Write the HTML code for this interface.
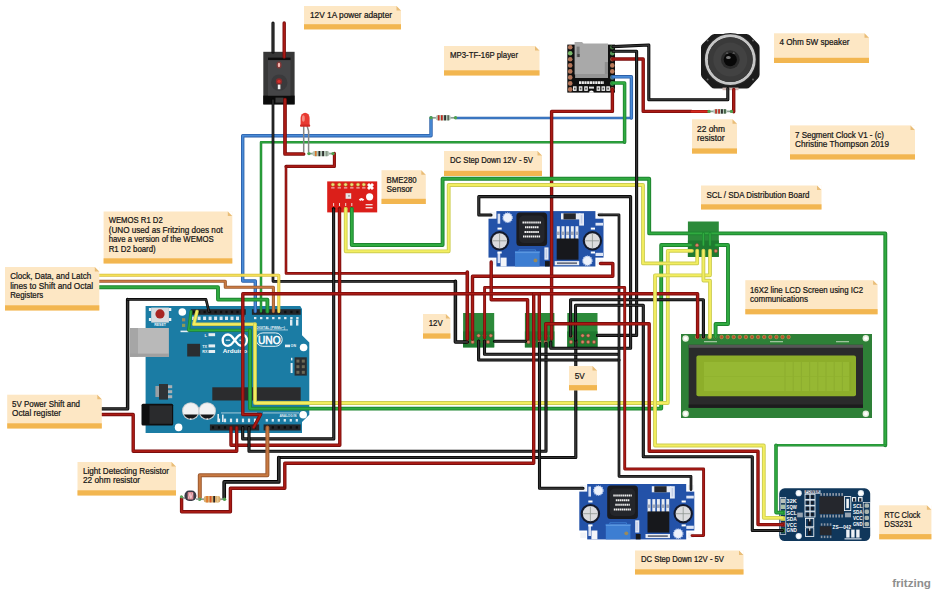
<!DOCTYPE html>
<html><head><meta charset="utf-8"><title>7 Segment Clock V1</title>
<style>html,body{margin:0;padding:0;background:#fff;}svg{display:block}text{font-family:"Liberation Sans",sans-serif;fill:#151515}#notes text{stroke:#151515;stroke-width:0.22px}</style>
</head><body>
<svg width="938" height="594" viewBox="0 0 938 594">
<rect width="938" height="594" fill="#ffffff"/>
<g id="arduino">
<path d="M145.6 306 L300.2 306 L302 309 L302 335.3 L309.3 342.6 L309.3 414.7 L302 422 L302 433 L145.6 433 Z" fill="#1b7ca4"/>
<rect x="148.9" y="308.0" width="2.4" height="3" fill="#eef2f4"/>
<rect x="168.9" y="308.0" width="2.4" height="3" fill="#eef2f4"/>
<rect x="148.9" y="318.0" width="2.4" height="3" fill="#eef2f4"/>
<rect x="168.9" y="318.0" width="2.4" height="3" fill="#eef2f4"/>
<rect x="151.2" y="307.6" width="17.7" height="15" fill="#d8dcdf"/>
<circle cx="160" cy="313.9" r="4.6" fill="#a82622"/>
<text x="154.2" y="325.8" font-size="3.4" font-weight="bold" style="fill:#eef5f8" textLength="11.8" lengthAdjust="spacingAndGlyphs">RESET</text>
<circle cx="182.3" cy="312.0" r="3.8" fill="#ffffff"/>
<circle cx="178.6" cy="427.4" r="3.8" fill="#ffffff"/>
<circle cx="303.6" cy="347.5" r="3.8" fill="#ffffff"/>
<circle cx="303.2" cy="414.7" r="3.8" fill="#ffffff"/>
<rect x="130" y="328" width="38.9" height="28.8" fill="#b9b9b9"/>
<rect x="130" y="328" width="8" height="28.8" fill="#a6a6a6"/>
<rect x="130" y="353.6" width="38.9" height="3.2" fill="#a0a0a0"/>
<rect x="182" y="318.2" width="3.2" height="3.2" fill="#9a8a5a"/><rect x="182" y="323.8" width="3.2" height="3.2" fill="#8a9a5a"/>
<rect x="180.5" y="330.6" width="8" height="1.6" fill="#e6f0f5"/>
<rect x="190.8" y="309.2" width="55" height="5.6" fill="#23262a"/>
<rect x="251.9" y="309.2" width="48.8" height="5.6" fill="#23262a"/>
<rect x="192.5" y="310.8" width="2.2" height="2.4" fill="#0c0d0e"/>
<rect x="192.1" y="316.6" width="3" height="3.4" fill="#dfeaf0"/>
<rect x="198.0" y="310.8" width="2.2" height="2.4" fill="#0c0d0e"/>
<rect x="197.6" y="316.6" width="3" height="3.4" fill="#dfeaf0"/>
<rect x="203.5" y="310.8" width="2.2" height="2.4" fill="#0c0d0e"/>
<rect x="203.1" y="316.6" width="3" height="3.4" fill="#dfeaf0"/>
<rect x="209.0" y="310.8" width="2.2" height="2.4" fill="#0c0d0e"/>
<rect x="208.6" y="316.6" width="3" height="3.4" fill="#dfeaf0"/>
<rect x="214.5" y="310.8" width="2.2" height="2.4" fill="#0c0d0e"/>
<rect x="214.1" y="316.6" width="3" height="3.4" fill="#dfeaf0"/>
<rect x="220.0" y="310.8" width="2.2" height="2.4" fill="#0c0d0e"/>
<rect x="219.6" y="316.6" width="3" height="3.4" fill="#dfeaf0"/>
<rect x="225.4" y="310.8" width="2.2" height="2.4" fill="#0c0d0e"/>
<rect x="225.0" y="316.6" width="3" height="3.4" fill="#dfeaf0"/>
<rect x="230.9" y="310.8" width="2.2" height="2.4" fill="#0c0d0e"/>
<rect x="230.5" y="316.6" width="3" height="3.4" fill="#dfeaf0"/>
<rect x="236.4" y="310.8" width="2.2" height="2.4" fill="#0c0d0e"/>
<rect x="236.0" y="316.6" width="3" height="3.4" fill="#dfeaf0"/>
<rect x="241.9" y="310.8" width="2.2" height="2.4" fill="#0c0d0e"/>
<rect x="241.5" y="316.6" width="3" height="3.4" fill="#dfeaf0"/>
<rect x="254.1" y="310.8" width="2.2" height="2.4" fill="#0c0d0e"/>
<rect x="254.0" y="317" width="2.4" height="2.2" fill="#dfeaf0"/>
<rect x="260.1" y="310.8" width="2.2" height="2.4" fill="#0c0d0e"/>
<rect x="260.0" y="317" width="2.4" height="2.2" fill="#dfeaf0"/>
<rect x="266.2" y="310.8" width="2.2" height="2.4" fill="#0c0d0e"/>
<rect x="266.1" y="317" width="2.4" height="2.2" fill="#dfeaf0"/>
<rect x="272.2" y="310.8" width="2.2" height="2.4" fill="#0c0d0e"/>
<rect x="272.1" y="317" width="2.4" height="2.2" fill="#dfeaf0"/>
<rect x="278.2" y="310.8" width="2.2" height="2.4" fill="#0c0d0e"/>
<rect x="278.1" y="317" width="2.4" height="2.2" fill="#dfeaf0"/>
<rect x="284.2" y="310.8" width="2.2" height="2.4" fill="#0c0d0e"/>
<rect x="284.1" y="317" width="2.4" height="2.2" fill="#dfeaf0"/>
<rect x="290.3" y="310.8" width="2.2" height="2.4" fill="#0c0d0e"/>
<rect x="290.2" y="317" width="2.4" height="2.2" fill="#dfeaf0"/>
<rect x="296.3" y="310.8" width="2.2" height="2.4" fill="#0c0d0e"/>
<rect x="296.2" y="317" width="2.4" height="2.2" fill="#dfeaf0"/>
<rect x="290" y="319.6" width="2.4" height="6" fill="#dfeaf0"/><rect x="296" y="319.6" width="2.4" height="6" fill="#dfeaf0"/>
<rect x="255" y="329.6" width="33" height="0.7" fill="#dfeaf0"/>
<text x="256" y="328.6" font-size="3.6" font-weight="bold" style="fill:#e6f0f5" textLength="29" lengthAdjust="spacingAndGlyphs">DIGITAL (PWM=~)</text>
<text x="204.5" y="336.5" font-size="4" font-weight="bold" style="fill:#eef5f8">L</text><rect x="208.5" y="333.2" width="6.6" height="3" fill="#e6eef2"/>
<text x="202.3" y="347.6" font-size="3.8" font-weight="bold" style="fill:#eef5f8">TX</text><rect x="208.5" y="344.4" width="6.6" height="3" fill="#e6eef2"/>
<text x="202.3" y="353.2" font-size="3.8" font-weight="bold" style="fill:#eef5f8">RX</text><rect x="208.5" y="350" width="6.6" height="3" fill="#e6eef2"/>
<rect x="187.2" y="343.8" width="12.9" height="12.7" fill="#2a2d30"/>
<path d="M234.8 340.2 C232 336 230.5 334.5 228 334.5 C224.6 334.5 222.7 337.2 222.7 340.2 C222.7 343.2 224.6 345.9 228 345.9 C230.5 345.9 232 344.4 234.8 340.2 C237.6 336 239.1 334.5 241.6 334.5 C245 334.5 246.9 337.2 246.9 340.2 C246.9 343.2 245 345.9 241.6 345.9 C239.1 345.9 237.6 344.4 234.8 340.2 Z" fill="none" stroke="#ffffff" stroke-width="2.3"/>
<path d="M225.8 340.2 h4.4 M239.4 340.2 h4.4 M241.6 338 v4.4" stroke="#fff" stroke-width="1"/>
<rect x="256.2" y="332.9" width="26" height="13.4" rx="6.7" fill="none" stroke="#ffffff" stroke-width="0.9"/>
<text x="258" y="343.8" font-size="10.4" style="fill:#ffffff;stroke:#ffffff;stroke-width:0.5px" textLength="22.6" lengthAdjust="spacingAndGlyphs">UNO</text>
<text x="222.8" y="352.8" font-size="5.4" font-weight="bold" style="fill:#ffffff" textLength="24.3" lengthAdjust="spacingAndGlyphs">Arduino</text>
<rect x="285" y="344.6" width="5" height="2.6" fill="#e6eef2"/><text x="290.6" y="347.4" font-size="3.6" font-weight="bold" style="fill:#eef5f8">ON</text>
<rect x="294.6" y="357.3" width="12.2" height="18.3" fill="#2a2d30"/>
<rect x="296.4" y="359.6" width="3" height="3" fill="#6d6a58"/>
<rect x="301.8" y="359.6" width="3" height="3" fill="#6d6a58"/>
<rect x="296.4" y="365.2" width="3" height="3" fill="#6d6a58"/>
<rect x="301.8" y="365.2" width="3" height="3" fill="#6d6a58"/>
<rect x="296.4" y="370.8" width="3" height="3" fill="#6d6a58"/>
<rect x="301.8" y="370.8" width="3" height="3" fill="#6d6a58"/>
<rect x="290.6" y="363" width="2" height="10" fill="#e6f0f5"/><rect x="291" y="357.8" width="1.4" height="2.6" fill="#e6f0f5"/>
<rect x="155.4" y="386" width="4" height="11" fill="#9aa0a4"/>
<rect x="159" y="384" width="9" height="15.6" fill="#2f3336"/>
<rect x="168" y="385.2" width="4.2" height="3" fill="#aab0b4"/>
<rect x="168" y="390.2" width="4.2" height="3" fill="#aab0b4"/>
<rect x="168" y="395.2" width="4.2" height="3" fill="#aab0b4"/>
<rect x="212.3" y="387.3" width="88.4" height="13.2" fill="#2b2c2e"/>
<rect x="141.5" y="403.7" width="31.7" height="21.9" rx="1.5" fill="#0f0f10"/>
<rect x="149.5" y="405.5" width="22.5" height="18.3" fill="#2a2b2d"/>
<circle cx="190.8" cy="411" r="8.8" fill="#c9cdd0"/>
<circle cx="190.8" cy="411" r="7.8" fill="#f1f2f3"/>
<path d="M183.9 414.6 A7.8 7.8 0 0 0 197.7 414.6 Z" fill="#17181a"/>
<rect x="190.3" y="418.2" width="1" height="1.6" fill="#fff"/>
<circle cx="207.2" cy="411" r="8.8" fill="#c9cdd0"/>
<circle cx="207.2" cy="411" r="7.8" fill="#f1f2f3"/>
<path d="M200.3 414.6 A7.8 7.8 0 0 0 214.1 414.6 Z" fill="#17181a"/>
<rect x="206.7" y="418.2" width="1" height="1.6" fill="#fff"/>
<rect x="209.9" y="424.4" width="49.3" height="6.1" fill="#23262a"/>
<rect x="263.6" y="424.4" width="37.1" height="6.1" fill="#23262a"/>
<rect x="211.9" y="426.2" width="2.2" height="2.4" fill="#0c0d0e"/>
<rect x="217.9" y="426.2" width="2.2" height="2.4" fill="#0c0d0e"/>
<rect x="217.9" y="418.6" width="2.2" height="3.6" fill="#dfeaf0"/>
<rect x="223.9" y="426.2" width="2.2" height="2.4" fill="#0c0d0e"/>
<rect x="223.9" y="418.6" width="2.2" height="3.6" fill="#dfeaf0"/>
<rect x="229.9" y="426.2" width="2.2" height="2.4" fill="#0c0d0e"/>
<rect x="229.9" y="418.6" width="2.2" height="3.6" fill="#dfeaf0"/>
<rect x="235.9" y="426.2" width="2.2" height="2.4" fill="#0c0d0e"/>
<rect x="235.9" y="418.6" width="2.2" height="3.6" fill="#dfeaf0"/>
<rect x="241.9" y="426.2" width="2.2" height="2.4" fill="#0c0d0e"/>
<rect x="241.9" y="418.6" width="2.2" height="3.6" fill="#dfeaf0"/>
<rect x="247.9" y="426.2" width="2.2" height="2.4" fill="#0c0d0e"/>
<rect x="247.9" y="418.6" width="2.2" height="3.6" fill="#dfeaf0"/>
<rect x="253.9" y="426.2" width="2.2" height="2.4" fill="#0c0d0e"/>
<rect x="253.9" y="418.6" width="2.2" height="3.6" fill="#dfeaf0"/>
<rect x="265.7" y="426.2" width="2.2" height="2.4" fill="#0c0d0e"/>
<rect x="265.7" y="419" width="2.2" height="2.6" fill="#dfeaf0"/>
<rect x="271.7" y="426.2" width="2.2" height="2.4" fill="#0c0d0e"/>
<rect x="271.7" y="419" width="2.2" height="2.6" fill="#dfeaf0"/>
<rect x="277.7" y="426.2" width="2.2" height="2.4" fill="#0c0d0e"/>
<rect x="277.7" y="419" width="2.2" height="2.6" fill="#dfeaf0"/>
<rect x="283.7" y="426.2" width="2.2" height="2.4" fill="#0c0d0e"/>
<rect x="283.7" y="419" width="2.2" height="2.6" fill="#dfeaf0"/>
<rect x="289.7" y="426.2" width="2.2" height="2.4" fill="#0c0d0e"/>
<rect x="289.7" y="419" width="2.2" height="2.6" fill="#dfeaf0"/>
<rect x="295.7" y="426.2" width="2.2" height="2.4" fill="#0c0d0e"/>
<rect x="295.7" y="419" width="2.2" height="2.6" fill="#dfeaf0"/>
<rect x="263" y="412.6" width="36" height="0.7" fill="#dfeaf0"/>
<rect x="221" y="412.6" width="36" height="0.7" fill="#dfeaf0"/>
<text x="279.4" y="416.6" font-size="3.4" font-weight="bold" style="fill:#e6f0f5" textLength="17" lengthAdjust="spacingAndGlyphs">ANALOG IN</text>
<rect x="217.4" y="414" width="1.6" height="8" fill="#dfeaf0"/><rect x="222" y="414.6" width="1.6" height="7.4" fill="#dfeaf0"/>
</g>
<g id="switch">
<rect x="263.3" y="51.8" width="31.3" height="52.6" fill="#373737"/>
<rect x="263.3" y="95.6" width="31.3" height="8.8" fill="#0b0b0b"/>
<rect x="268" y="57.6" width="22.5" height="2.6" fill="#0d0d0d"/>
<rect x="268" y="60.2" width="22.5" height="35.4" fill="#454547"/>
<circle cx="279.2" cy="82.6" r="8.2" fill="#3a3a3c"/>
<ellipse cx="279" cy="65" rx="2.6" ry="3.6" fill="#b02a28" opacity="0.55"/>
<ellipse cx="279" cy="65" rx="1.2" ry="2.3" fill="#f6b8b0"/>
<circle cx="279" cy="81.4" r="3.2" fill="#a82424" opacity="0.7"/>
<circle cx="279" cy="81.4" r="1.7" fill="#d8302a"/>
<rect x="277.8" y="84.6" width="2.6" height="4.6" fill="#ededed"/>
<rect x="275.5" y="97.6" width="8" height="5" fill="#3c3c3c"/>
</g>
<g id="bme">
<rect x="327.2" y="181.4" width="50" height="31" fill="#db1f1a"/>
<circle cx="332.9" cy="184.6" r="1.7" fill="#e8e27a" stroke="#a88a30" stroke-width="0.5"/>
<rect x="331.2" y="187.4" width="3.4" height="1" fill="#f3d9d6"/>
<circle cx="339.3" cy="184.6" r="1.7" fill="#e8e27a" stroke="#a88a30" stroke-width="0.5"/>
<rect x="337.6" y="187.4" width="3.4" height="1" fill="#f3d9d6"/>
<circle cx="345.6" cy="184.6" r="1.7" fill="#e8e27a" stroke="#a88a30" stroke-width="0.5"/>
<rect x="343.9" y="187.4" width="3.4" height="1" fill="#f3d9d6"/>
<circle cx="351.8" cy="184.6" r="1.7" fill="#e8e27a" stroke="#a88a30" stroke-width="0.5"/>
<rect x="350.1" y="187.4" width="3.4" height="1" fill="#f3d9d6"/>
<circle cx="358.0" cy="184.6" r="1.7" fill="#e8e27a" stroke="#a88a30" stroke-width="0.5"/>
<rect x="356.3" y="187.4" width="3.4" height="1" fill="#f3d9d6"/>
<circle cx="363.8" cy="184.6" r="1.7" fill="#e8e27a" stroke="#a88a30" stroke-width="0.5"/>
<rect x="362.1" y="187.4" width="3.4" height="1" fill="#f3d9d6"/>
<rect x="345.6" y="193.2" width="5.6" height="5.6" fill="#e6e6e6"/><rect x="348.2" y="195.5" width="1.6" height="0.9" fill="#555"/>
<circle cx="369.6" cy="196.8" r="3.6" fill="#ffffff"/>
<path d="M367 185 l2 -2 l1.5 1.5 l1.5 -1.5 l2 2 l-1.5 1.5 l1.5 1.5 l-2 2 l-1.5 -1.5 l-1.5 1.5 l-2 -2 l1.5 -1.5 Z" fill="#ffffff"/>
<path d="M358.8 199.5 q2.5 -3 5.5 0 l-1.5 1.5 q-1.3 -1.3 -2.6 0 Z" fill="#fff"/>
<rect x="365.6" y="204" width="7" height="1.4" fill="#f3d9d6"/><rect x="365.6" y="207" width="7" height="1.4" fill="#f3d9d6"/>
<circle cx="333.6" cy="208.8" r="1.8" fill="#111"/>
<rect x="333.1" y="203" width="1" height="3" fill="#f3d9d6"/>
<circle cx="339.5" cy="208.8" r="1.8" fill="#8a0a0a"/>
<rect x="339.0" y="203" width="1" height="3" fill="#f3d9d6"/>
<circle cx="345.7" cy="208.8" r="1.8" fill="#d8d040"/>
<rect x="345.2" y="203" width="1" height="3" fill="#f3d9d6"/>
<circle cx="351.8" cy="208.8" r="1.8" fill="#2a9a35"/>
<rect x="351.3" y="203" width="1" height="3" fill="#f3d9d6"/>
</g>
<g id="sd1">
<g transform="translate(489.0 211.1)">
<rect x="7.4" y="0" width="99" height="55.4" fill="#2352a8"/>
<rect x="-0.5" y="7.6" width="115" height="38.9" fill="#2352a8"/>
<rect x="0.5" y="1.0" width="6" height="5.5" fill="#f1f3f7"/>
<rect x="0.5" y="48.5" width="6" height="5.5" fill="#f1f3f7"/>
<rect x="108.0" y="1.0" width="6" height="5.5" fill="#f1f3f7"/>
<rect x="108.0" y="48.5" width="6" height="5.5" fill="#f1f3f7"/>
<rect x="11.6" y="46.5" width="6" height="8.9" fill="#f4f6fa"/>
<rect x="8.6" y="2.6" width="2.6" height="10" fill="#d5def2"/><rect x="8.6" y="41" width="2.6" height="11" fill="#d5def2"/>
<rect x="8.5" y="16.5" width="4.2" height="2" fill="#fff"/><rect x="8.5" y="40.4" width="4.2" height="2" fill="#fff"/>
<rect x="101.8" y="16.5" width="4.2" height="2" fill="#fff"/><rect x="101.8" y="40.4" width="4.2" height="2" fill="#fff"/>
<rect x="106.5" y="11.7" width="7.5" height="2.8" fill="#dfe6f5"/><rect x="106.5" y="41.7" width="7.5" height="3.2" fill="#dfe6f5"/>
<circle cx="18.6" cy="6.6" r="4.7" fill="#eef2fb" stroke="#a9bfe8" stroke-width="1.3" stroke-dasharray="1.2 0.9"/>
<circle cx="98.4" cy="49.7" r="4.7" fill="#eef2fb" stroke="#a9bfe8" stroke-width="1.3" stroke-dasharray="1.2 0.9"/>
<circle cx="10.6" cy="29.7" r="9.7" fill="#141a2c"/>
<circle cx="10.6" cy="29.7" r="7.6" fill="#dcdcde"/>
<path d="M10.6 22.5 L10.6 37 M3.4 29.7 L17.8 29.7" stroke="#8f9590" stroke-width="0.8"/>
<circle cx="103.4" cy="29.7" r="9.7" fill="#141a2c"/>
<circle cx="103.4" cy="29.7" r="7.6" fill="#dcdcde"/>
<path d="M103.4 22.5 L103.4 37 M96.2 29.7 L110.6 29.7" stroke="#8f9590" stroke-width="0.8"/>
<rect x="27.4" y="1.5" width="30.7" height="33.5" rx="3.5" fill="#1a1b1f"/>
<rect x="30" y="4.5" width="25.5" height="27.5" rx="5" fill="#24262b"/>
<path d="M33.5 11.5 h18.5" stroke="#f0f0f0" stroke-width="2" stroke-dasharray="1.5 0.45"/>
<path d="M36.0 16.2 h14.0" stroke="#f0f0f0" stroke-width="2" stroke-dasharray="1.5 0.45"/>
<path d="M35.5 20.8 h14.5" stroke="#f0f0f0" stroke-width="2" stroke-dasharray="1.5 0.45"/>
<path d="M34.0 25.4 h17.5" stroke="#f0f0f0" stroke-width="2" stroke-dasharray="1.5 0.45"/>
<rect x="26" y="40.4" width="24.6" height="15" fill="#3d7ed2"/>
<rect x="26" y="40.4" width="24.6" height="1.6" fill="#5a96e0"/>
<path d="M26 40.4 h4 v-1.6 h16.6 v1.6 h4" fill="none" stroke="#3d7ed2" stroke-width="1"/>
<circle cx="46.5" cy="49.3" r="1.9" fill="#9a8a5a"/>
<rect x="55.4" y="36.3" width="4.1" height="12.3" fill="#e3e9f6"/><rect x="56.6" y="38" width="1.4" height="9" fill="#c3cde6"/>
<rect x="56" y="50" width="4.8" height="5.4" fill="#17181b"/>
<rect x="72" y="2.2" width="19.5" height="6.1" fill="#e9edf5"/><rect x="74.5" y="2.2" width="12.3" height="6.1" fill="#25272c"/>
<rect x="90.2" y="2.2" width="4.8" height="12.3" fill="#e3e9f6"/><rect x="91.8" y="4" width="1.5" height="8.5" fill="#c3cde6"/>
<rect x="67.8" y="15.1" width="3" height="13" fill="#e8ecf3"/>
<rect x="67.8" y="20.5" width="3" height="3.4" fill="#9ea6b6"/>
<rect x="72.5" y="15.1" width="3" height="13" fill="#e8ecf3"/>
<rect x="72.5" y="20.5" width="3" height="3.4" fill="#9ea6b6"/>
<rect x="77.1" y="15.1" width="3" height="13" fill="#e8ecf3"/>
<rect x="77.1" y="20.5" width="3" height="3.4" fill="#9ea6b6"/>
<rect x="81.8" y="15.1" width="3" height="13" fill="#e8ecf3"/>
<rect x="81.8" y="20.5" width="3" height="3.4" fill="#9ea6b6"/>
<rect x="86.4" y="15.1" width="3" height="13" fill="#e8ecf3"/>
<rect x="86.4" y="20.5" width="3" height="3.4" fill="#9ea6b6"/>
<rect x="67.7" y="27.4" width="21.8" height="21.2" fill="#17181c"/>
<rect x="65.7" y="50" width="24.5" height="4.1" fill="#e9edf5"/><rect x="68" y="51.2" width="20" height="1.8" fill="#6a7080"/>
</g>
</g>
<g id="sd2">
<g transform="translate(579.8 484.0)">
<rect x="7.4" y="0" width="99" height="55.4" fill="#2352a8"/>
<rect x="-0.5" y="7.6" width="115" height="38.9" fill="#2352a8"/>
<rect x="0.5" y="1.0" width="6" height="5.5" fill="#f1f3f7"/>
<rect x="0.5" y="48.5" width="6" height="5.5" fill="#f1f3f7"/>
<rect x="108.0" y="1.0" width="6" height="5.5" fill="#f1f3f7"/>
<rect x="108.0" y="48.5" width="6" height="5.5" fill="#f1f3f7"/>
<rect x="11.6" y="46.5" width="6" height="8.9" fill="#f4f6fa"/>
<rect x="8.6" y="2.6" width="2.6" height="10" fill="#d5def2"/><rect x="8.6" y="41" width="2.6" height="11" fill="#d5def2"/>
<rect x="8.5" y="16.5" width="4.2" height="2" fill="#fff"/><rect x="8.5" y="40.4" width="4.2" height="2" fill="#fff"/>
<rect x="101.8" y="16.5" width="4.2" height="2" fill="#fff"/><rect x="101.8" y="40.4" width="4.2" height="2" fill="#fff"/>
<rect x="106.5" y="11.7" width="7.5" height="2.8" fill="#dfe6f5"/><rect x="106.5" y="41.7" width="7.5" height="3.2" fill="#dfe6f5"/>
<circle cx="18.6" cy="6.6" r="4.7" fill="#eef2fb" stroke="#a9bfe8" stroke-width="1.3" stroke-dasharray="1.2 0.9"/>
<circle cx="98.4" cy="49.7" r="4.7" fill="#eef2fb" stroke="#a9bfe8" stroke-width="1.3" stroke-dasharray="1.2 0.9"/>
<circle cx="10.6" cy="29.7" r="9.7" fill="#141a2c"/>
<circle cx="10.6" cy="29.7" r="7.6" fill="#dcdcde"/>
<path d="M10.6 22.5 L10.6 37 M3.4 29.7 L17.8 29.7" stroke="#8f9590" stroke-width="0.8"/>
<circle cx="103.4" cy="29.7" r="9.7" fill="#141a2c"/>
<circle cx="103.4" cy="29.7" r="7.6" fill="#dcdcde"/>
<path d="M103.4 22.5 L103.4 37 M96.2 29.7 L110.6 29.7" stroke="#8f9590" stroke-width="0.8"/>
<rect x="27.4" y="1.5" width="30.7" height="33.5" rx="3.5" fill="#1a1b1f"/>
<rect x="30" y="4.5" width="25.5" height="27.5" rx="5" fill="#24262b"/>
<path d="M33.5 11.5 h18.5" stroke="#f0f0f0" stroke-width="2" stroke-dasharray="1.5 0.45"/>
<path d="M36.0 16.2 h14.0" stroke="#f0f0f0" stroke-width="2" stroke-dasharray="1.5 0.45"/>
<path d="M35.5 20.8 h14.5" stroke="#f0f0f0" stroke-width="2" stroke-dasharray="1.5 0.45"/>
<path d="M34.0 25.4 h17.5" stroke="#f0f0f0" stroke-width="2" stroke-dasharray="1.5 0.45"/>
<rect x="26" y="40.4" width="24.6" height="15" fill="#3d7ed2"/>
<rect x="26" y="40.4" width="24.6" height="1.6" fill="#5a96e0"/>
<path d="M26 40.4 h4 v-1.6 h16.6 v1.6 h4" fill="none" stroke="#3d7ed2" stroke-width="1"/>
<circle cx="46.5" cy="49.3" r="1.9" fill="#9a8a5a"/>
<rect x="55.4" y="36.3" width="4.1" height="12.3" fill="#e3e9f6"/><rect x="56.6" y="38" width="1.4" height="9" fill="#c3cde6"/>
<rect x="56" y="50" width="4.8" height="5.4" fill="#17181b"/>
<rect x="72" y="2.2" width="19.5" height="6.1" fill="#e9edf5"/><rect x="74.5" y="2.2" width="12.3" height="6.1" fill="#25272c"/>
<rect x="90.2" y="2.2" width="4.8" height="12.3" fill="#e3e9f6"/><rect x="91.8" y="4" width="1.5" height="8.5" fill="#c3cde6"/>
<rect x="67.8" y="15.1" width="3" height="13" fill="#e8ecf3"/>
<rect x="67.8" y="20.5" width="3" height="3.4" fill="#9ea6b6"/>
<rect x="72.5" y="15.1" width="3" height="13" fill="#e8ecf3"/>
<rect x="72.5" y="20.5" width="3" height="3.4" fill="#9ea6b6"/>
<rect x="77.1" y="15.1" width="3" height="13" fill="#e8ecf3"/>
<rect x="77.1" y="20.5" width="3" height="3.4" fill="#9ea6b6"/>
<rect x="81.8" y="15.1" width="3" height="13" fill="#e8ecf3"/>
<rect x="81.8" y="20.5" width="3" height="3.4" fill="#9ea6b6"/>
<rect x="86.4" y="15.1" width="3" height="13" fill="#e8ecf3"/>
<rect x="86.4" y="20.5" width="3" height="3.4" fill="#9ea6b6"/>
<rect x="67.7" y="27.4" width="21.8" height="21.2" fill="#17181c"/>
<rect x="65.7" y="50" width="24.5" height="4.1" fill="#e9edf5"/><rect x="68" y="51.2" width="20" height="1.8" fill="#6a7080"/>
</g>
</g>
<g id="boards">
<rect x="463.1" y="313.0" width="31.1" height="34.4" fill="#2c8a3a"/>
<rect x="463.1" y="331.4" width="31.1" height="16.0" fill="#1f7a30"/>
<circle cx="467.3" cy="342.0" r="1.7" fill="#d9866a" stroke="#8a3a2a" stroke-width="0.5"/>
<circle cx="472.6" cy="342.0" r="1.7" fill="#d9866a" stroke="#8a3a2a" stroke-width="0.5"/>
<circle cx="478.6" cy="335.6" r="1.7" fill="#d9866a" stroke="#8a3a2a" stroke-width="0.5"/>
<circle cx="484.5" cy="335.6" r="1.7" fill="#d9866a" stroke="#8a3a2a" stroke-width="0.5"/>
<circle cx="490.8" cy="335.6" r="1.7" fill="#d9866a" stroke="#8a3a2a" stroke-width="0.5"/>
<circle cx="478.6" cy="342.0" r="1.7" fill="#d9866a" stroke="#8a3a2a" stroke-width="0.5"/>
<circle cx="484.5" cy="342.0" r="1.7" fill="#d9866a" stroke="#8a3a2a" stroke-width="0.5"/>
<circle cx="488.0" cy="342.0" r="1.7" fill="#d9866a" stroke="#8a3a2a" stroke-width="0.5"/>
<rect x="524.9" y="313.0" width="29.5" height="34.4" fill="#2c8a3a"/>
<rect x="524.9" y="331.4" width="29.5" height="16.0" fill="#1f7a30"/>
<circle cx="528.4" cy="342.0" r="1.7" fill="#d9866a" stroke="#8a3a2a" stroke-width="0.5"/>
<circle cx="533.8" cy="342.0" r="1.7" fill="#d9866a" stroke="#8a3a2a" stroke-width="0.5"/>
<circle cx="539.5" cy="336.0" r="1.7" fill="#d9866a" stroke="#8a3a2a" stroke-width="0.5"/>
<circle cx="545.7" cy="336.0" r="1.7" fill="#d9866a" stroke="#8a3a2a" stroke-width="0.5"/>
<circle cx="551.3" cy="336.0" r="1.7" fill="#d9866a" stroke="#8a3a2a" stroke-width="0.5"/>
<circle cx="539.5" cy="342.0" r="1.7" fill="#d9866a" stroke="#8a3a2a" stroke-width="0.5"/>
<circle cx="545.7" cy="342.0" r="1.7" fill="#d9866a" stroke="#8a3a2a" stroke-width="0.5"/>
<rect x="567.3" y="313.0" width="30.2" height="34.4" fill="#2c8a3a"/>
<rect x="567.3" y="331.4" width="30.2" height="16.0" fill="#1f7a30"/>
<circle cx="570.9" cy="342.0" r="1.7" fill="#d9866a" stroke="#8a3a2a" stroke-width="0.5"/>
<circle cx="576.0" cy="342.0" r="1.7" fill="#d9866a" stroke="#8a3a2a" stroke-width="0.5"/>
<circle cx="582.6" cy="335.6" r="1.7" fill="#d9866a" stroke="#8a3a2a" stroke-width="0.5"/>
<circle cx="588.2" cy="335.6" r="1.7" fill="#d9866a" stroke="#8a3a2a" stroke-width="0.5"/>
<circle cx="582.6" cy="342.0" r="1.7" fill="#d9866a" stroke="#8a3a2a" stroke-width="0.5"/>
<circle cx="588.2" cy="342.0" r="1.7" fill="#d9866a" stroke="#8a3a2a" stroke-width="0.5"/>
<circle cx="594.0" cy="342.0" r="1.7" fill="#d9866a" stroke="#8a3a2a" stroke-width="0.5"/>
<circle cx="570.9" cy="336.0" r="1.7" fill="#d9866a" stroke="#8a3a2a" stroke-width="0.5"/>
<rect x="687.9" y="221.5" width="30.9" height="35.4" fill="#2c8a3a"/>
<rect x="687.9" y="240.5" width="30.9" height="16.4" fill="#1f7a30"/>
<circle cx="697.0" cy="245.2" r="1.7" fill="#d9866a" stroke="#8a3a2a" stroke-width="0.5"/>
<circle cx="715.8" cy="251.0" r="1.7" fill="#d9866a" stroke="#8a3a2a" stroke-width="0.5"/>
</g>
<g id="mp3">
<rect x="567.3" y="44.6" width="47.7" height="48" fill="#101010"/>
<path d="M574.6 41.9 L582 41.9 L583.5 43.4 L608 43.4 L608 78 L575.4 78 L575.4 74.5 L574.6 74.5 Z" fill="#a9a9a9"/>
<rect x="604.8" y="62" width="3.2" height="14" fill="#8e8e8e"/>
<rect x="575.4" y="74" width="32.6" height="4" fill="#959595"/>
<rect x="576.6" y="46.6" width="3" height="10.5" fill="#7a7a7a"/><rect x="577.4" y="54" width="2.2" height="3" fill="#4a4a4a"/>
<circle cx="570.2" cy="47.3" r="2.3" fill="#b4765a"/>
<circle cx="612.3" cy="47.3" r="2.3" fill="#3f6a3a"/>
<circle cx="570.2" cy="53.3" r="2.3" fill="#7ab86a"/>
<circle cx="612.3" cy="53.3" r="2.3" fill="#5a9a5a"/>
<circle cx="570.2" cy="59.3" r="2.3" fill="#b4765a"/>
<circle cx="612.3" cy="59.3" r="2.3" fill="#9a4a3a"/>
<circle cx="570.2" cy="65.4" r="2.3" fill="#b4765a"/>
<circle cx="612.3" cy="65.4" r="2.3" fill="#b87a5a"/>
<circle cx="570.2" cy="71.4" r="2.3" fill="#b4765a"/>
<circle cx="612.3" cy="71.4" r="2.3" fill="#b87a5a"/>
<circle cx="570.2" cy="77.4" r="2.3" fill="#b4765a"/>
<circle cx="612.3" cy="77.4" r="2.3" fill="#4a7a8a"/>
<circle cx="570.2" cy="83.4" r="2.3" fill="#b4765a"/>
<circle cx="612.3" cy="83.4" r="2.3" fill="#3f9a4a"/>
<circle cx="570.2" cy="89.4" r="2.3" fill="#b4765a"/>
<circle cx="612.3" cy="89.4" r="2.3" fill="#9a4a3a"/>
<path d="M579 82.6 h25" stroke="#ececec" stroke-width="2.6" stroke-dasharray="2.2 0.5"/>
<rect x="573.0" y="86.3" width="3.6" height="4.6" fill="#f0f0f0"/><rect x="574.0" y="87.6" width="1.6" height="2" fill="#555"/>
<rect x="578.8" y="86.3" width="3.6" height="4.6" fill="#f0f0f0"/><rect x="579.8" y="87.6" width="1.6" height="2" fill="#555"/>
<rect x="584.2" y="86.3" width="3.6" height="4.6" fill="#f0f0f0"/><rect x="585.2" y="87.6" width="1.6" height="2" fill="#555"/>
<rect x="596.6" y="86.3" width="3.6" height="4.6" fill="#f0f0f0"/><rect x="597.6" y="87.6" width="1.6" height="2" fill="#555"/>
<rect x="601.5" y="86.3" width="3.6" height="4.6" fill="#f0f0f0"/><rect x="602.5" y="87.6" width="1.6" height="2" fill="#555"/>
<rect x="606.3" y="86.3" width="3.6" height="4.6" fill="#f0f0f0"/><rect x="607.3" y="87.6" width="1.6" height="2" fill="#555"/>
<rect x="589" y="86.6" width="5" height="2" fill="#e0e0e0"/>
<path d="M589 92.8 a2.4 2.4 0 0 1 4.8 0 Z" fill="#fff"/>
</g>
<g id="speaker">
<path d="M714.5 34 L746.5 34 Q748.5 34 750 35.5 L758.3 44 Q759.6 45.4 759.6 47.4 L759.6 74.6 Q759.6 76.6 758.3 78 L750 87 Q748.5 88.6 746.5 88.6 L714.5 88.6 Q712.5 88.6 711 87 L702.4 78 Q701 76.6 701 74.6 L701 47.4 Q701 45.4 702.4 44 L711 35.5 Q712.5 34 714.5 34 Z" fill="#1c1c1c"/>
<circle cx="707.6" cy="40.4" r="1" fill="#6a6a6a"/>
<circle cx="753.0" cy="40.4" r="1" fill="#6a6a6a"/>
<circle cx="707.6" cy="79.6" r="1" fill="#6a6a6a"/>
<circle cx="753.0" cy="79.6" r="1" fill="#6a6a6a"/>
<circle cx="730.3" cy="59.6" r="26.6" fill="#262626"/>
<circle cx="730.3" cy="59.6" r="23.9" fill="none" stroke="#c6c6c6" stroke-width="3"/>
<circle cx="730.3" cy="59.6" r="22.4" fill="#3a3a3a"/>
<circle cx="730.3" cy="59.6" r="17" fill="#424242"/>
<circle cx="730.3" cy="59.6" r="9.4" fill="#2a2a2a"/>
<circle cx="730.3" cy="59.6" r="6.6" fill="#080808"/>
<ellipse cx="728.4" cy="57.6" rx="2.4" ry="1.5" fill="#7a7a7a"/>
<path d="M727 51.5 l1.6 2.6 h-3 Z M733.8 51.5 l1.4 2.6 h-3 Z" fill="#555"/>
<rect x="722.5" y="87.6" width="16" height="2.6" fill="#cfb8b4"/>
</g>
<g id="lcd">
<rect x="681" y="334" width="191" height="84" fill="#2e8037"/>
<rect x="688.7" y="344.8" width="174.3" height="63" fill="#2a2b2b"/>
<rect x="688.7" y="344.8" width="174.3" height="3" fill="#555755"/>
<rect x="688.7" y="404.5" width="174.3" height="3.3" fill="#1c1d1d"/>
<rect x="696.4" y="355.5" width="159.6" height="40.7" rx="2" fill="#8dae2a"/>
<rect x="704" y="362" width="145" height="29" fill="#96b833"/>
<path d="M785.0 362 L785.0 391" stroke="#86a62c" stroke-width="0.6"/>
<path d="M793.2 362 L793.2 391" stroke="#86a62c" stroke-width="0.6"/>
<path d="M801.4 362 L801.4 391" stroke="#86a62c" stroke-width="0.6"/>
<path d="M809.6 362 L809.6 391" stroke="#86a62c" stroke-width="0.6"/>
<path d="M817.8 362 L817.8 391" stroke="#86a62c" stroke-width="0.6"/>
<path d="M826.0 362 L826.0 391" stroke="#86a62c" stroke-width="0.6"/>
<path d="M834.2 362 L834.2 391" stroke="#86a62c" stroke-width="0.6"/>
<path d="M842.4 362 L842.4 391" stroke="#86a62c" stroke-width="0.6"/>
<path d="M850.6 362 L850.6 391" stroke="#86a62c" stroke-width="0.6"/>
<path d="M704 376.5 L849 376.5" stroke="#8fb02e" stroke-width="0.6"/>
<circle cx="685.6" cy="338.5" r="3.2" fill="#e6eedd"/><circle cx="685.6" cy="338.5" r="1.7" fill="#ffffff"/>
<circle cx="865.8" cy="338.3" r="3.2" fill="#e6eedd"/><circle cx="865.8" cy="338.3" r="1.7" fill="#ffffff"/>
<circle cx="685.6" cy="413.8" r="3.2" fill="#e6eedd"/><circle cx="685.6" cy="413.8" r="1.7" fill="#ffffff"/>
<circle cx="865.8" cy="413.7" r="3.2" fill="#e6eedd"/><circle cx="865.8" cy="413.7" r="1.7" fill="#ffffff"/>
<circle cx="697.2" cy="337" r="1.8" fill="#b8502a" stroke="#d8a060" stroke-width="0.5"/>
<circle cx="703.3" cy="337" r="1.8" fill="#b8502a" stroke="#d8a060" stroke-width="0.5"/>
<circle cx="709.4" cy="337" r="1.8" fill="#b8502a" stroke="#d8a060" stroke-width="0.5"/>
<circle cx="715.5" cy="337" r="1.8" fill="#b8502a" stroke="#d8a060" stroke-width="0.5"/>
<circle cx="721.6" cy="337" r="1.8" fill="#b8502a" stroke="#d8a060" stroke-width="0.5"/>
<circle cx="727.7" cy="337" r="1.8" fill="#b8502a" stroke="#d8a060" stroke-width="0.5"/>
<circle cx="733.7" cy="337" r="1.8" fill="#b8502a" stroke="#d8a060" stroke-width="0.5"/>
<circle cx="739.8" cy="337" r="1.8" fill="#b8502a" stroke="#d8a060" stroke-width="0.5"/>
<circle cx="745.9" cy="337" r="1.8" fill="#b8502a" stroke="#d8a060" stroke-width="0.5"/>
<circle cx="752.0" cy="337" r="1.8" fill="#b8502a" stroke="#d8a060" stroke-width="0.5"/>
<circle cx="758.1" cy="337" r="1.8" fill="#b8502a" stroke="#d8a060" stroke-width="0.5"/>
<circle cx="764.2" cy="337" r="1.8" fill="#b8502a" stroke="#d8a060" stroke-width="0.5"/>
<circle cx="770.3" cy="337" r="1.8" fill="#b8502a" stroke="#d8a060" stroke-width="0.5"/>
<circle cx="776.4" cy="337" r="1.8" fill="#b8502a" stroke="#d8a060" stroke-width="0.5"/>
<circle cx="782.5" cy="337" r="1.8" fill="#b8502a" stroke="#d8a060" stroke-width="0.5"/>
<circle cx="788.6" cy="337" r="1.8" fill="#b8502a" stroke="#d8a060" stroke-width="0.5"/>
<rect x="704" y="341.3" width="13" height="0.9" fill="#cfe0c8"/><rect x="770" y="341.3" width="13" height="0.9" fill="#cfe0c8"/><rect x="836" y="341.3" width="13" height="0.9" fill="#cfe0c8"/>
</g>
<g id="rtc">
<rect x="779.2" y="488.3" width="91" height="52.7" rx="5.5" fill="#10375b"/>
<circle cx="798.7" cy="493.2" r="3.1" fill="#dfe8f2"/><circle cx="798.7" cy="493.2" r="2.1" fill="#ffffff"/>
<circle cx="860.9" cy="493.2" r="3.1" fill="#dfe8f2"/><circle cx="860.9" cy="493.2" r="2.1" fill="#ffffff"/>
<circle cx="798.7" cy="536.1" r="3.1" fill="#dfe8f2"/><circle cx="798.7" cy="536.1" r="2.1" fill="#ffffff"/>
<rect x="780.2" y="497.6" width="5.6" height="36.9" fill="none" stroke="#ffffff" stroke-width="0.6"/>
<rect x="781" y="498.7" width="4" height="4.4" fill="#b9c2bc"/>
<text x="786.6" y="502.9" font-size="5.4" font-weight="bold" style="fill:#fff" textLength="10.2" lengthAdjust="spacingAndGlyphs">32K</text>
<rect x="781" y="504.6" width="4" height="4.4" fill="#a9c0a8"/>
<text x="786.6" y="508.8" font-size="5.4" font-weight="bold" style="fill:#fff" textLength="10.2" lengthAdjust="spacingAndGlyphs">SQW</text>
<rect x="781" y="510.5" width="4" height="4.4" fill="#35a845"/>
<text x="786.6" y="514.7" font-size="5.4" font-weight="bold" style="fill:#fff" textLength="10.2" lengthAdjust="spacingAndGlyphs">SCL</text>
<rect x="781" y="516.4" width="4" height="4.4" fill="#d8d84a"/>
<text x="786.6" y="520.6" font-size="5.4" font-weight="bold" style="fill:#fff" textLength="10.2" lengthAdjust="spacingAndGlyphs">SDA</text>
<rect x="781" y="522.3" width="4" height="4.4" fill="#9a2a20"/>
<text x="786.6" y="526.5" font-size="5.4" font-weight="bold" style="fill:#fff" textLength="10.2" lengthAdjust="spacingAndGlyphs">VCC</text>
<rect x="781" y="528.2" width="4" height="4.4" fill="#2d6a35"/>
<text x="786.6" y="532.4" font-size="5.4" font-weight="bold" style="fill:#fff" textLength="10.2" lengthAdjust="spacingAndGlyphs">GND</text>
<rect x="863.2" y="502.3" width="7" height="25.2" fill="none" stroke="#ffffff" stroke-width="0.6"/>
<text x="853" y="507.8" font-size="5.4" font-weight="bold" style="fill:#fff" textLength="9.6" lengthAdjust="spacingAndGlyphs">SCL</text>
<rect x="864.6" y="503.4" width="4.4" height="4.4" rx="1.4" fill="#a9b4ae"/>
<text x="853" y="514.0" font-size="5.4" font-weight="bold" style="fill:#fff" textLength="9.6" lengthAdjust="spacingAndGlyphs">SDA</text>
<rect x="864.6" y="509.6" width="4.4" height="4.4" rx="1.4" fill="#a9b4ae"/>
<text x="853" y="520.1" font-size="5.4" font-weight="bold" style="fill:#fff" textLength="9.6" lengthAdjust="spacingAndGlyphs">VCC</text>
<rect x="864.6" y="515.7" width="4.4" height="4.4" rx="1.4" fill="#a9b4ae"/>
<text x="853" y="526.3" font-size="5.4" font-weight="bold" style="fill:#fff" textLength="9.6" lengthAdjust="spacingAndGlyphs">GND</text>
<rect x="864.6" y="521.9" width="4.4" height="4.4" rx="1.4" fill="#a9b4ae"/>
<rect x="819.3" y="496.4" width="24.6" height="17.6" fill="#25272d"/>
<rect x="820.3" y="493.1" width="1.7" height="2.7" fill="#8c95a2"/><rect x="820.3" y="514.6" width="1.7" height="2.9" fill="#8c95a2"/>
<rect x="823.3" y="493.1" width="1.7" height="2.7" fill="#8c95a2"/><rect x="823.3" y="514.6" width="1.7" height="2.9" fill="#8c95a2"/>
<rect x="826.3" y="493.1" width="1.7" height="2.7" fill="#8c95a2"/><rect x="826.3" y="514.6" width="1.7" height="2.9" fill="#8c95a2"/>
<rect x="829.3" y="493.1" width="1.7" height="2.7" fill="#8c95a2"/><rect x="829.3" y="514.6" width="1.7" height="2.9" fill="#8c95a2"/>
<rect x="832.3" y="493.1" width="1.7" height="2.7" fill="#8c95a2"/><rect x="832.3" y="514.6" width="1.7" height="2.9" fill="#8c95a2"/>
<rect x="835.3" y="493.1" width="1.7" height="2.7" fill="#8c95a2"/><rect x="835.3" y="514.6" width="1.7" height="2.9" fill="#8c95a2"/>
<rect x="838.3" y="493.1" width="1.7" height="2.7" fill="#8c95a2"/><rect x="838.3" y="514.6" width="1.7" height="2.9" fill="#8c95a2"/>
<rect x="841.3" y="493.1" width="1.7" height="2.7" fill="#8c95a2"/><rect x="841.3" y="514.6" width="1.7" height="2.9" fill="#8c95a2"/>
<rect x="819.8" y="526.3" width="11.8" height="8.8" fill="#25272d"/>
<rect x="820.8" y="523.3" width="1.6" height="2.4" fill="#8c95a2"/><rect x="820.8" y="535.7" width="1.6" height="2.4" fill="#8c95a2"/>
<rect x="823.8" y="523.3" width="1.6" height="2.4" fill="#8c95a2"/><rect x="823.8" y="535.7" width="1.6" height="2.4" fill="#8c95a2"/>
<rect x="826.8" y="523.3" width="1.6" height="2.4" fill="#8c95a2"/><rect x="826.8" y="535.7" width="1.6" height="2.4" fill="#8c95a2"/>
<rect x="829.8" y="523.3" width="1.6" height="2.4" fill="#8c95a2"/><rect x="829.8" y="535.7" width="1.6" height="2.4" fill="#8c95a2"/>
<rect x="844.4" y="496.6" width="6.4" height="14" fill="none" stroke="#ffffff" stroke-width="0.8"/><rect x="846.3" y="498.8" width="2.6" height="9.4" fill="#f2f4f6"/>
<rect x="852" y="497" width="4.2" height="4.6" fill="#e8edf2"/><rect x="853" y="498.2" width="2.2" height="3.4" fill="#1a2230"/>
<rect x="858" y="497" width="4.6" height="4.6" fill="#e8edf2"/><rect x="859.2" y="498.2" width="2.2" height="3.4" fill="#1a2230"/>
<rect x="845" y="512.6" width="6" height="4.7" fill="#97a3b0"/><rect x="797.2" y="512.6" width="5.6" height="4.7" fill="#97a3b0"/>
<rect x="804.6" y="490.2" width="15.8" height="3.4" fill="#f1f4f7"/>
<text x="805.2" y="493.2" font-size="3.8" font-weight="bold" style="fill:#1a3050" textLength="14.6" lengthAdjust="spacingAndGlyphs">POWER</text>
<rect x="805" y="494.2" width="10" height="5.2" fill="none" stroke="#fff" stroke-width="0.8"/>
<rect x="806.4" y="495.3" width="2.8" height="3" fill="#131a26"/><rect x="810.8" y="495.3" width="2.8" height="3" fill="#131a26"/>
<rect x="809.5" y="494.2" width="1" height="5.2" fill="#fff"/>
<rect x="805" y="500.1" width="10" height="5.2" fill="none" stroke="#fff" stroke-width="0.8"/>
<rect x="806.4" y="501.2" width="2.8" height="3" fill="#131a26"/><rect x="810.8" y="501.2" width="2.8" height="3" fill="#131a26"/>
<rect x="809.5" y="500.1" width="1" height="5.2" fill="#fff"/>
<rect x="805" y="505.9" width="10" height="5.2" fill="none" stroke="#fff" stroke-width="0.8"/>
<rect x="806.4" y="507.0" width="2.8" height="3" fill="#131a26"/><rect x="810.8" y="507.0" width="2.8" height="3" fill="#131a26"/>
<rect x="809.5" y="505.9" width="1" height="5.2" fill="#fff"/>
<rect x="805" y="511.8" width="10" height="5.2" fill="none" stroke="#fff" stroke-width="0.8"/>
<rect x="806.4" y="512.9" width="2.8" height="3" fill="#131a26"/><rect x="810.8" y="512.9" width="2.8" height="3" fill="#131a26"/>
<rect x="809.5" y="511.8" width="1" height="5.2" fill="#fff"/>
<rect x="805.6" y="518.4" width="8.2" height="8.4" fill="none" stroke="#fff" stroke-width="0.8"/><rect x="805.6" y="527.8" width="8.2" height="8.6" fill="none" stroke="#fff" stroke-width="0.8"/>
<rect x="808" y="519.6" width="3.4" height="6" fill="#131a26"/><rect x="808" y="529" width="3.4" height="6" fill="#131a26"/>
<rect x="809.3" y="518.4" width="0.9" height="3" fill="#fff"/><rect x="809.3" y="527.8" width="0.9" height="3" fill="#fff"/>
<text x="832.6" y="529.4" font-size="5.6" font-weight="bold" style="fill:#fff" textLength="18.4" lengthAdjust="spacingAndGlyphs">ZS&#8212;042</text>
<rect x="846.2" y="529.6" width="3.4" height="8" fill="#eef1f5"/>
<rect x="851.2" y="529.6" width="3.4" height="8" fill="#eef1f5"/>
<rect x="856.2" y="529.6" width="3.4" height="8" fill="#eef1f5"/>
<rect x="844.5" y="538" width="17" height="1.6" fill="#c6d0dc" opacity="0.8"/>
</g>
<g id="wires" fill="none" stroke-linejoin="round" stroke-linecap="round">
<path d="M191.0 311.5 L188.6 330.2 L250.0 330.2" stroke="#1e8530" stroke-width="3.0"/>
<path d="M191.0 311.5 L188.6 330.2 L250.0 330.2" stroke="#30ab40" stroke-width="1.5"/>
<path d="M250.0 330.2 L250.0 408.6 L661.2 408.6 L661.2 245.0 L691.0 245.0" stroke="#1e8530" stroke-width="3.9"/>
<path d="M250.0 330.2 L250.0 408.6 L661.2 408.6 L661.2 245.0 L691.0 245.0" stroke="#30ab40" stroke-width="1.9"/>
<path d="M197.0 311.5 L193.8 324.2 L255.0 324.2" stroke="#cdcd52" stroke-width="3.5"/>
<path d="M197.0 311.5 L193.8 324.2 L255.0 324.2" stroke="#f3ee60" stroke-width="1.8"/>
<path d="M255.0 324.2 L255.0 403.0 L667.8 403.0 L667.8 250.8 L692.0 250.8" stroke="#cdcd52" stroke-width="3.8"/>
<path d="M255.0 324.2 L255.0 403.0 L667.8 403.0 L667.8 250.8 L692.0 250.8" stroke="#f3ee60" stroke-width="1.9"/>
<path d="M631.4 118.0 L456.0 118.0" stroke="#2b5fa8" stroke-width="2.3"/>
<path d="M631.4 118.0 L456.0 118.0" stroke="#4a8cd8" stroke-width="1.1"/>
<path d="M613.0 76.8 L631.4 76.8 L631.4 118.0" stroke="#2b5fa8" stroke-width="3.4"/>
<path d="M613.0 76.8 L631.4 76.8 L631.4 118.0" stroke="#4a8cd8" stroke-width="1.7"/>
<path d="M431.0 118.0 L431.0 135.7 L242.7 135.7 L242.7 281.0 L255.3 281.0 L255.3 311.6" stroke="#2b5fa8" stroke-width="3.4"/>
<path d="M431.0 118.0 L431.0 135.7 L242.7 135.7 L242.7 281.0 L255.3 281.0 L255.3 311.6" stroke="#4a8cd8" stroke-width="1.7"/>
<path d="M624.6 142.2 L261.0 142.2 L261.0 311.6" stroke="#1e8530" stroke-width="2.5"/>
<path d="M624.6 142.2 L261.0 142.2 L261.0 311.6" stroke="#30ab40" stroke-width="1.2"/>
<path d="M613.0 83.0 L624.6 83.0 L624.6 142.2" stroke="#1e8530" stroke-width="3.5"/>
<path d="M613.0 83.0 L624.6 83.0 L624.6 142.2" stroke="#30ab40" stroke-width="1.8"/>
<path d="M273.0 23.0 L273.0 52.0" stroke="#000000" stroke-width="3.1"/>
<path d="M273.0 23.0 L273.0 52.0" stroke="#333333" stroke-width="1.6"/>
<path d="M284.2 23.0 L284.2 57.0" stroke="#7a0d0d" stroke-width="3.4"/>
<path d="M284.2 23.0 L284.2 57.0" stroke="#aa1b14" stroke-width="1.7"/>
<path d="M273.0 100.0 L273.0 281.3 L455.4 281.3" stroke="#000000" stroke-width="2.7"/>
<path d="M273.0 100.0 L273.0 281.3 L455.4 281.3" stroke="#333333" stroke-width="1.4"/>
<path d="M455.4 281.3 L455.4 342.0 L467.3 342.0" stroke="#000000" stroke-width="3.5"/>
<path d="M455.4 281.3 L455.4 342.0 L467.3 342.0" stroke="#333333" stroke-width="1.8"/>
<path d="M285.0 99.5 L285.0 154.0 L303.6 154.0" stroke="#7a0d0d" stroke-width="3.7"/>
<path d="M285.0 99.5 L285.0 154.0 L303.6 154.0" stroke="#aa1b14" stroke-width="1.9"/>
<path d="M334.4 153.3 L334.4 166.4 L286.0 166.4" stroke="#7a0d0d" stroke-width="3.1"/>
<path d="M334.4 153.3 L334.4 166.4 L286.0 166.4" stroke="#aa1b14" stroke-width="1.6"/>
<path d="M286.0 166.4 L286.0 273.4 L467.3 273.4" stroke="#7a0d0d" stroke-width="2.6"/>
<path d="M286.0 166.4 L286.0 273.4 L467.3 273.4" stroke="#aa1b14" stroke-width="1.3"/>
<path d="M467.3 272.0 L467.3 339.0" stroke="#7a0d0d" stroke-width="3.6"/>
<path d="M467.3 272.0 L467.3 339.0" stroke="#aa1b14" stroke-width="1.8"/>
<path d="M613.0 46.6 L648.8 45.0 L648.8 99.8 L727.8 99.8 L727.8 88.5" stroke="#000000" stroke-width="3.1"/>
<path d="M613.0 46.6 L648.8 45.0 L648.8 99.8 L727.8 99.8 L727.8 88.5" stroke="#333333" stroke-width="1.6"/>
<path d="M613.0 59.0 L643.2 59.0 L643.2 111.4 L691.5 111.4" stroke="#7a0d0d" stroke-width="3.4"/>
<path d="M613.0 59.0 L643.2 59.0 L643.2 111.4 L691.5 111.4" stroke="#aa1b14" stroke-width="1.7"/>
<path d="M691.5 111.4 L709.0 111.4" stroke="#a81812" stroke-width="3.0"/>
<path d="M691.5 111.4 L709.0 111.4" stroke="#d62a20" stroke-width="1.5"/>
<path d="M733.7 111.8 L733.7 89.5" stroke="#7a0d0d" stroke-width="3.4"/>
<path d="M733.7 111.8 L733.7 89.5" stroke="#aa1b14" stroke-width="1.7"/>
<path d="M612.4 89.6 L612.4 111.4 L551.6 111.4 L551.6 339.0" stroke="#7a0d0d" stroke-width="3.4"/>
<path d="M612.4 89.6 L612.4 111.4 L551.6 111.4 L551.6 339.0" stroke="#aa1b14" stroke-width="1.7"/>
<path d="M333.6 209.0 L333.8 438.9 L242.7 438.9 L242.7 427.5" stroke="#000000" stroke-width="3.1"/>
<path d="M333.6 209.0 L333.8 438.9 L242.7 438.9 L242.7 427.5" stroke="#333333" stroke-width="1.6"/>
<path d="M339.5 209.0 L339.8 445.2 L231.0 445.2 L231.0 427.5" stroke="#7a0d0d" stroke-width="3.4"/>
<path d="M339.5 209.0 L339.8 445.2 L231.0 445.2 L231.0 427.5" stroke="#aa1b14" stroke-width="1.7"/>
<path d="M345.7 209.0 L345.7 251.3 L448.7 251.3 L448.7 185.0 L643.0 185.0 L643.0 263.4 L697.2 263.4 L697.2 250.6" stroke="#cdcd52" stroke-width="3.8"/>
<path d="M345.7 209.0 L345.7 251.3 L448.7 251.3 L448.7 185.0 L643.0 185.0 L643.0 263.4 L697.2 263.4 L697.2 250.6" stroke="#f3ee60" stroke-width="1.9"/>
<path d="M351.8 209.0 L351.8 245.0 L442.6 245.0 L442.6 178.8 L649.2 178.8 L649.2 233.4 L885.3 233.4 L885.3 445.2" stroke="#1e8530" stroke-width="3.9"/>
<path d="M351.8 209.0 L351.8 245.0 L442.6 245.0 L442.6 178.8 L649.2 178.8 L649.2 233.4 L885.3 233.4 L885.3 445.2" stroke="#30ab40" stroke-width="1.9"/>
<path d="M885.3 445.2 L776.0 445.2" stroke="#1e8530" stroke-width="2.6"/>
<path d="M885.3 445.2 L776.0 445.2" stroke="#30ab40" stroke-width="1.3"/>
<path d="M776.0 445.2 L776.0 512.6 L782.5 512.6" stroke="#1e8530" stroke-width="3.6"/>
<path d="M776.0 445.2 L776.0 512.6 L782.5 512.6" stroke="#30ab40" stroke-width="1.8"/>
<path d="M613.0 51.2 L636.6 51.2 L636.6 335.4 L597.5 335.4" stroke="#000000" stroke-width="3.1"/>
<path d="M613.0 51.2 L636.6 51.2 L636.6 335.4 L597.5 335.4" stroke="#333333" stroke-width="1.6"/>
<path d="M99.3 275.3 L278.8 275.3 L278.8 311.6" stroke="#d9c043" stroke-width="3.1"/>
<path d="M99.3 275.3 L278.8 275.3 L278.8 311.6" stroke="#f4e058" stroke-width="1.6"/>
<path d="M99.3 281.3 L225.3 281.3 L225.3 287.3 L273.4 287.3 L273.4 311.6" stroke="#9c5a30" stroke-width="3.1"/>
<path d="M99.3 281.3 L225.3 281.3 L225.3 287.3 L273.4 287.3 L273.4 311.6" stroke="#c87a42" stroke-width="1.6"/>
<path d="M99.3 287.3 L218.0 287.3 L218.0 299.6 L267.4 299.6 L267.4 311.6" stroke="#1e8530" stroke-width="3.9"/>
<path d="M99.3 287.3 L218.0 287.3 L218.0 299.6 L267.4 299.6 L267.4 311.6" stroke="#30ab40" stroke-width="1.9"/>
<path d="M101.8 408.9 L127.6 408.9 L127.6 299.4" stroke="#000000" stroke-width="3.4"/>
<path d="M101.8 408.9 L127.6 408.9 L127.6 299.4" stroke="#333333" stroke-width="1.7"/>
<path d="M127.6 299.4 L206.0 299.4 L209.0 311.8" stroke="#000000" stroke-width="2.6"/>
<path d="M127.6 299.4 L206.0 299.4 L209.0 311.8" stroke="#333333" stroke-width="1.3"/>
<path d="M101.8 414.5 L133.2 414.5 L133.2 451.2 L236.7 451.2 L236.7 427.5" stroke="#7a0d0d" stroke-width="3.4"/>
<path d="M101.8 414.5 L133.2 414.5 L133.2 451.2 L236.7 451.2 L236.7 427.5" stroke="#aa1b14" stroke-width="1.7"/>
<path d="M249.0 427.5 L249.0 451.3 L546.0 451.3 L546.0 343.0" stroke="#000000" stroke-width="3.1"/>
<path d="M249.0 427.5 L249.0 451.3 L546.0 451.3 L546.0 343.0" stroke="#333333" stroke-width="1.6"/>
<path d="M575.8 340.0 L575.8 457.5 L278.8 457.5" stroke="#000000" stroke-width="3.1"/>
<path d="M575.8 340.0 L575.8 457.5 L278.8 457.5" stroke="#333333" stroke-width="1.6"/>
<path d="M278.8 457.5 L278.8 481.9 L224.2 481.9 L224.2 498.5" stroke="#000000" stroke-width="3.7"/>
<path d="M278.8 457.5 L278.8 481.9 L224.2 481.9 L224.2 498.5" stroke="#333333" stroke-width="1.9"/>
<path d="M267.4 427.5 L267.4 475.2 L199.8 475.2 L199.8 497.7" stroke="#9c5a30" stroke-width="4.0"/>
<path d="M267.4 427.5 L267.4 475.2 L199.8 475.2 L199.8 497.7" stroke="#c87a42" stroke-width="2.0"/>
<path d="M478.6 341.0 L478.6 360.0 L619.0 360.0" stroke="#000000" stroke-width="3.1"/>
<path d="M478.6 341.0 L478.6 360.0 L619.0 360.0" stroke="#333333" stroke-width="1.6"/>
<path d="M484.5 341.0 L484.5 354.2 L618.5 354.2" stroke="#000000" stroke-width="3.1"/>
<path d="M484.5 341.0 L484.5 354.2 L618.5 354.2" stroke="#333333" stroke-width="1.6"/>
<path d="M494.6 341.3 L525.3 341.3" stroke="#000000" stroke-width="3.1"/>
<path d="M494.6 341.3 L525.3 341.3" stroke="#333333" stroke-width="1.6"/>
<path d="M491.0 215.0 L478.8 215.0 L478.8 196.6 L630.6 196.6 L630.6 348.3 L550.8 348.3 L550.8 342.0" stroke="#000000" stroke-width="3.1"/>
<path d="M491.0 215.0 L478.8 215.0 L478.8 196.6 L630.6 196.6 L630.6 348.3 L550.8 348.3 L550.8 342.0" stroke="#333333" stroke-width="1.6"/>
<path d="M599.0 214.8 L619.0 214.8 L619.0 476.3 L691.0 476.3 L691.0 489.6" stroke="#000000" stroke-width="2.7"/>
<path d="M599.0 214.8 L619.0 214.8 L619.0 476.3 L691.0 476.3 L691.0 489.6" stroke="#333333" stroke-width="1.4"/>
<path d="M539.5 343.0 L539.5 488.3 L583.0 488.3" stroke="#000000" stroke-width="3.1"/>
<path d="M539.5 343.0 L539.5 488.3 L583.0 488.3" stroke="#333333" stroke-width="1.6"/>
<path d="M570.6 336.0 L570.6 299.7 L703.4 299.7 L703.4 337.0" stroke="#000000" stroke-width="3.1"/>
<path d="M570.6 336.0 L570.6 299.7 L703.4 299.7 L703.4 337.0" stroke="#333333" stroke-width="1.6"/>
<path d="M575.5 340.0 L575.5 305.2 L643.3 305.2 L643.3 456.8 L752.3 456.8 L752.3 530.5 L782.5 530.5" stroke="#000000" stroke-width="3.1"/>
<path d="M575.5 340.0 L575.5 305.2 L643.3 305.2 L643.3 456.8 L752.3 456.8 L752.3 530.5 L782.5 530.5" stroke="#333333" stroke-width="1.6"/>
<path d="M472.5 339.0 L472.5 276.2 L612.8 276.2 L612.8 263.5 L600.5 263.5" stroke="#7a0d0d" stroke-width="3.4"/>
<path d="M472.5 339.0 L472.5 276.2 L612.8 276.2 L612.8 263.5 L600.5 263.5" stroke="#aa1b14" stroke-width="1.7"/>
<path d="M484.6 338.0 L484.6 287.4 L624.7 287.4 L624.7 469.0 L703.6 469.0 L703.6 535.6 L692.0 535.6" stroke="#7a0d0d" stroke-width="2.9"/>
<path d="M484.6 338.0 L484.6 287.4 L624.7 287.4 L624.7 469.0 L703.6 469.0 L703.6 535.6 L692.0 535.6" stroke="#aa1b14" stroke-width="1.4"/>
<path d="M491.2 262.0 L491.2 299.7 L527.6 299.7 L527.6 339.0" stroke="#7a0d0d" stroke-width="3.4"/>
<path d="M491.2 262.0 L491.2 299.7 L527.6 299.7 L527.6 339.0" stroke="#aa1b14" stroke-width="1.7"/>
<path d="M253.8 427.3 L260.6 414.5 L242.8 414.5 L242.8 293.7 L533.7 293.7 L533.7 463.2 L284.8 463.2 L284.8 488.3 L230.4 488.3 L230.4 511.8 L181.6 511.8 L181.6 497.5" stroke="#7a0d0d" stroke-width="3.4"/>
<path d="M253.8 427.3 L260.6 414.5 L242.8 414.5 L242.8 293.7 L533.7 293.7 L533.7 463.2 L284.8 463.2 L284.8 488.3 L230.4 488.3 L230.4 511.8 L181.6 511.8 L181.6 497.5" stroke="#aa1b14" stroke-width="1.7"/>
<path d="M539.3 339.0 L539.3 293.7 L697.6 293.7 L697.6 337.0" stroke="#7a0d0d" stroke-width="3.4"/>
<path d="M539.3 339.0 L539.3 293.7 L697.6 293.7 L697.6 337.0" stroke="#aa1b14" stroke-width="1.7"/>
<path d="M533.7 293.7 L539.3 293.7" stroke="#7a0d0d" stroke-width="3.4"/>
<path d="M533.7 293.7 L539.3 293.7" stroke="#aa1b14" stroke-width="1.7"/>
<path d="M545.7 339.0 L545.7 323.8 L649.2 323.8 L649.2 451.2 L758.0 451.2 L758.0 524.6 L782.5 524.6" stroke="#7a0d0d" stroke-width="3.4"/>
<path d="M545.7 339.0 L545.7 323.8 L649.2 323.8 L649.2 451.2 L758.0 451.2 L758.0 524.6 L782.5 524.6" stroke="#aa1b14" stroke-width="1.7"/>
<path d="M710.0 250.6 L710.0 275.3 L655.0 275.3 L655.0 445.5 L763.8 445.5 L763.8 517.8 L782.5 517.8" stroke="#cdcd52" stroke-width="3.8"/>
<path d="M710.0 250.6 L710.0 275.3 L655.0 275.3 L655.0 445.5 L763.8 445.5 L763.8 517.8 L782.5 517.8" stroke="#f3ee60" stroke-width="1.9"/>
<path d="M703.4 250.6 L703.4 280.6 L710.0 280.6 L710.0 337.0" stroke="#cdcd52" stroke-width="3.8"/>
<path d="M703.4 250.6 L703.4 280.6 L710.0 280.6 L710.0 337.0" stroke="#f3ee60" stroke-width="1.9"/>
<path d="M716.0 245.0 L728.0 245.0 L728.0 324.0 L715.6 324.0 L715.6 337.0" stroke="#1e8530" stroke-width="3.9"/>
<path d="M716.0 245.0 L728.0 245.0 L728.0 324.0 L715.6 324.0 L715.6 337.0" stroke="#30ab40" stroke-width="1.9"/>
<path d="M703.4 233.4 L703.4 245.0" stroke="#1e8530" stroke-width="2.8"/>
<path d="M703.4 233.4 L703.4 245.0" stroke="#30ab40" stroke-width="1.4"/>
<path d="M710.0 233.4 L710.0 245.0" stroke="#1e8530" stroke-width="2.8"/>
<path d="M710.0 233.4 L710.0 245.0" stroke="#30ab40" stroke-width="1.4"/>
</g>
<g id="led">
<path d="M303.7 124 L303.7 152 M306.5 124 L308.6 131 L308.6 152" stroke="#868686" stroke-width="1.5" fill="none"/>
<path d="M300.6 125.8 L300.6 118 A4.5 5.2 0 0 1 309.6 118 L309.6 125.8 Z" fill="#e83a32"/>
<rect x="300" y="124.6" width="10.2" height="2.2" rx="1" fill="#d02a24"/>
<ellipse cx="303.4" cy="118.5" rx="1.4" ry="3.2" fill="#f58a80"/>
</g>
<g id="resistors">
<path d="M308.9 153.6 L333.0 153.6" stroke="#8a9c92" stroke-width="1.7"/>
<rect x="312.4" y="150.9" width="17.0" height="5.4" rx="2.2" fill="#b4c8b8"/>
<rect x="314.9" y="151.0" width="1.7" height="5.2" fill="#d8742a"/>
<rect x="318.5" y="151.0" width="1.7" height="5.2" fill="#222"/>
<rect x="322.2" y="151.0" width="1.7" height="5.2" fill="#222"/>
<rect x="325.8" y="151.0" width="1.7" height="5.2" fill="#8a9a8a"/>
<circle cx="308.9" cy="153.6" r="1.7" fill="#4fa04f"/>
<circle cx="333.0" cy="153.6" r="1.7" fill="#4fa04f"/>
<path d="M431.0 117.8 L455.5 117.8" stroke="#8a9c92" stroke-width="1.7"/>
<rect x="435.8" y="115.1" width="15.0" height="5.4" rx="2.2" fill="#b4c8b8"/>
<rect x="437.8" y="115.2" width="1.7" height="5.2" fill="#c0281e"/>
<rect x="441.0" y="115.2" width="1.7" height="5.2" fill="#c0281e"/>
<rect x="444.2" y="115.2" width="1.7" height="5.2" fill="#222"/>
<rect x="447.4" y="115.2" width="1.7" height="5.2" fill="#5a6a5a"/>
<circle cx="431.0" cy="117.8" r="1.7" fill="#4fa04f"/>
<circle cx="455.5" cy="117.8" r="1.7" fill="#4fa04f"/>
<path d="M709.0 111.4 L731.5 111.4" stroke="#8a9c92" stroke-width="1.7"/>
<rect x="713.2" y="109.1" width="14.0" height="4.6" rx="2.2" fill="#b4c8b8"/>
<rect x="715.2" y="109.2" width="1.7" height="4.4" fill="#c0281e"/>
<rect x="718.2" y="109.2" width="1.7" height="4.4" fill="#c0281e"/>
<rect x="721.1" y="109.2" width="1.7" height="4.4" fill="#222"/>
<rect x="724.1" y="109.2" width="1.7" height="4.4" fill="#3a5a3a"/>
<circle cx="709.0" cy="111.4" r="1.7" fill="#4fa04f"/>
<circle cx="731.5" cy="111.4" r="1.7" fill="#4fa04f"/>
<path d="M199.6 499.2 L224.6 499.2" stroke="#8a9c92" stroke-width="1.7"/>
<rect x="203.8" y="495.9" width="16.6" height="6.6" rx="2.2" fill="#d9ab6c"/>
<rect x="206.2" y="496.0" width="1.7" height="6.4" fill="#e0782a"/>
<rect x="209.7" y="496.0" width="1.7" height="6.4" fill="#d8542a"/>
<rect x="213.3" y="496.0" width="1.7" height="6.4" fill="#222"/>
<rect x="216.8" y="496.0" width="1.7" height="6.4" fill="#e6c890"/>
<circle cx="199.6" cy="499.2" r="1.7" fill="#4fa04f"/>
<circle cx="224.6" cy="499.2" r="1.7" fill="#4fa04f"/>
</g>
<g id="ldr">
<path d="M181.4 497 L185 498.6 M196 499 L199.6 499.2" stroke="#8a9c92" stroke-width="1.6"/>
<rect x="184.5" y="490.6" width="11.8" height="10.3" rx="4.6" fill="#3b3b46"/>
<rect x="187.6" y="492" width="5.8" height="7.6" rx="1" fill="#d98a94"/>
<path d="M188.4 498.4 L190 493.2 L190.8 498.4 L192.6 493.2" stroke="#f4d6d8" stroke-width="0.8" fill="none"/>
<circle cx="181.4" cy="496.8" r="1.5" fill="#5aa85a"/>
</g>
<g id="notes">
<g>
<rect x="304.0" y="6.0" width="97.0" height="23.4" fill="#fde7c4"/>
<rect x="304.0" y="24.2" width="97.0" height="5.2" fill="#f2b650"/>
<path d="M396.5 6.0 L401.0 10.5 L396.5 10.5 Z" fill="#e9bd78"/>
<path d="M396.5 5.8 L401.2 5.8 L401.2 10.5 Z" fill="#ffffff"/>
<text x="310.0" y="17.6" font-size="8.6" textLength="82.0" lengthAdjust="spacingAndGlyphs">12V 1A power adapter</text>
</g>
<g>
<rect x="444.0" y="46.0" width="95.5" height="29.5" fill="#fde7c4"/>
<rect x="444.0" y="70.3" width="95.5" height="5.2" fill="#f2b650"/>
<path d="M535.0 46.0 L539.5 50.5 L535.0 50.5 Z" fill="#e9bd78"/>
<path d="M535.0 45.8 L539.7 45.8 L539.7 50.5 Z" fill="#ffffff"/>
<text x="450.0" y="58.0" font-size="8.6" textLength="68.0" lengthAdjust="spacingAndGlyphs">MP3-TF-16P player</text>
</g>
<g>
<rect x="774.0" y="33.3" width="95.0" height="29.7" fill="#fde7c4"/>
<rect x="774.0" y="57.8" width="95.0" height="5.2" fill="#f2b650"/>
<path d="M864.5 33.3 L869.0 37.8 L864.5 37.8 Z" fill="#e9bd78"/>
<path d="M864.5 33.1 L869.2 33.1 L869.2 37.8 Z" fill="#ffffff"/>
<text x="779.4" y="45.0" font-size="8.6" textLength="70.0" lengthAdjust="spacingAndGlyphs">4 Ohm 5W speaker</text>
</g>
<g>
<rect x="692.0" y="119.3" width="45.0" height="34.3" fill="#fde7c4"/>
<rect x="692.0" y="148.4" width="45.0" height="5.2" fill="#f2b650"/>
<path d="M732.5 119.3 L737.0 123.8 L732.5 123.8 Z" fill="#e9bd78"/>
<path d="M732.5 119.1 L737.2 119.1 L737.2 123.8 Z" fill="#ffffff"/>
<text x="697.0" y="132.3" font-size="8.6" textLength="28.0" lengthAdjust="spacingAndGlyphs">22 ohm</text>
<text x="697.0" y="141.3" font-size="8.6" textLength="27.5" lengthAdjust="spacingAndGlyphs">resistor</text>
</g>
<g>
<rect x="790.0" y="125.4" width="125.0" height="34.1" fill="#fde7c4"/>
<rect x="790.0" y="154.3" width="125.0" height="5.2" fill="#f2b650"/>
<path d="M910.5 125.4 L915.0 129.9 L910.5 129.9 Z" fill="#e9bd78"/>
<path d="M910.5 125.2 L915.2 125.2 L915.2 129.9 Z" fill="#ffffff"/>
<text x="795.0" y="137.6" font-size="8.6" textLength="89.0" lengthAdjust="spacingAndGlyphs">7 Segment Clock V1 - (c)</text>
<text x="795.0" y="146.9" font-size="8.6" textLength="94.0" lengthAdjust="spacingAndGlyphs">Christine Thompson 2019</text>
</g>
<g>
<rect x="444.0" y="151.0" width="98.0" height="25.0" fill="#fde7c4"/>
<rect x="444.0" y="170.8" width="98.0" height="5.2" fill="#f2b650"/>
<path d="M537.5 151.0 L542.0 155.5 L537.5 155.5 Z" fill="#e9bd78"/>
<path d="M537.5 150.8 L542.2 150.8 L542.2 155.5 Z" fill="#ffffff"/>
<text x="450.0" y="162.8" font-size="8.6" textLength="83.0" lengthAdjust="spacingAndGlyphs">DC Step Down 12V - 5V</text>
</g>
<g>
<rect x="381.5" y="170.2" width="44.3" height="33.8" fill="#fde7c4"/>
<rect x="381.5" y="198.8" width="44.3" height="5.2" fill="#f2b650"/>
<path d="M421.3 170.2 L425.8 174.7 L421.3 174.7 Z" fill="#e9bd78"/>
<path d="M421.3 170.0 L426.0 170.0 L426.0 174.7 Z" fill="#ffffff"/>
<text x="386.6" y="183.0" font-size="8.6" textLength="30.0" lengthAdjust="spacingAndGlyphs">BME280</text>
<text x="386.6" y="191.6" font-size="8.6" textLength="26.0" lengthAdjust="spacingAndGlyphs">Sensor</text>
</g>
<g>
<rect x="701.0" y="185.5" width="120.5" height="24.0" fill="#fde7c4"/>
<rect x="701.0" y="204.3" width="120.5" height="5.2" fill="#f2b650"/>
<path d="M817.0 185.5 L821.5 190.0 L817.0 190.0 Z" fill="#e9bd78"/>
<path d="M817.0 185.3 L821.7 185.3 L821.7 190.0 Z" fill="#ffffff"/>
<text x="706.5" y="197.5" font-size="8.6" textLength="103.0" lengthAdjust="spacingAndGlyphs">SCL / SDA Distribution Board</text>
</g>
<g>
<rect x="103.6" y="211.5" width="128.7" height="52.0" fill="#fde7c4"/>
<rect x="103.6" y="258.3" width="128.7" height="5.2" fill="#f2b650"/>
<path d="M227.8 211.5 L232.3 216.0 L227.8 216.0 Z" fill="#e9bd78"/>
<path d="M227.8 211.3 L232.5 211.3 L232.5 216.0 Z" fill="#ffffff"/>
<text x="108.7" y="223.2" font-size="8.6" textLength="54.0" lengthAdjust="spacingAndGlyphs">WEMOS R1 D2</text>
<text x="108.7" y="232.7" font-size="8.6" textLength="114.0" lengthAdjust="spacingAndGlyphs">(UNO used as Fritzing does not</text>
<text x="108.7" y="242.2" font-size="8.6" textLength="105.0" lengthAdjust="spacingAndGlyphs">have a version of the WEMOS</text>
<text x="108.7" y="251.7" font-size="8.6" textLength="47.0" lengthAdjust="spacingAndGlyphs">R1 D2 board)</text>
</g>
<g>
<rect x="5.0" y="267.0" width="94.3" height="43.5" fill="#fde7c4"/>
<rect x="5.0" y="305.3" width="94.3" height="5.2" fill="#f2b650"/>
<path d="M94.8 267.0 L99.3 271.5 L94.8 271.5 Z" fill="#e9bd78"/>
<path d="M94.8 266.8 L99.5 266.8 L99.5 271.5 Z" fill="#ffffff"/>
<text x="10.2" y="279.3" font-size="8.6" textLength="81.0" lengthAdjust="spacingAndGlyphs">Clock, Data, and Latch</text>
<text x="10.2" y="288.8" font-size="8.6" textLength="83.0" lengthAdjust="spacingAndGlyphs">lines to Shift and Octal</text>
<text x="10.2" y="298.2" font-size="8.6" textLength="33.0" lengthAdjust="spacingAndGlyphs">Registers</text>
</g>
<g>
<rect x="7.2" y="394.7" width="94.6" height="33.8" fill="#fde7c4"/>
<rect x="7.2" y="423.3" width="94.6" height="5.2" fill="#f2b650"/>
<path d="M97.3 394.7 L101.8 399.2 L97.3 399.2 Z" fill="#e9bd78"/>
<path d="M97.3 394.5 L102.0 394.5 L102.0 399.2 Z" fill="#ffffff"/>
<text x="12.0" y="407.2" font-size="8.6" textLength="68.0" lengthAdjust="spacingAndGlyphs">5V Power Shift and</text>
<text x="12.0" y="416.2" font-size="8.6" textLength="49.0" lengthAdjust="spacingAndGlyphs">Octal register</text>
</g>
<g>
<rect x="77.5" y="462.0" width="98.5" height="33.5" fill="#fde7c4"/>
<rect x="77.5" y="490.3" width="98.5" height="5.2" fill="#f2b650"/>
<path d="M171.5 462.0 L176.0 466.5 L171.5 466.5 Z" fill="#e9bd78"/>
<path d="M171.5 461.8 L176.2 461.8 L176.2 466.5 Z" fill="#ffffff"/>
<text x="83.0" y="474.0" font-size="8.6" textLength="86.0" lengthAdjust="spacingAndGlyphs">Light Detecting Resistor</text>
<text x="83.0" y="483.0" font-size="8.6" textLength="57.0" lengthAdjust="spacingAndGlyphs">22 ohm resistor</text>
</g>
<g>
<rect x="423.0" y="314.0" width="27.4" height="24.6" fill="#fde7c4"/>
<rect x="423.0" y="333.4" width="27.4" height="5.2" fill="#f2b650"/>
<path d="M445.9 314.0 L450.4 318.5 L445.9 318.5 Z" fill="#e9bd78"/>
<path d="M445.9 313.8 L450.6 313.8 L450.6 318.5 Z" fill="#ffffff"/>
<text x="428.7" y="326.2" font-size="8.6" textLength="14.0" lengthAdjust="spacingAndGlyphs">12V</text>
</g>
<g>
<rect x="569.0" y="366.0" width="28.0" height="24.3" fill="#fde7c4"/>
<rect x="569.0" y="385.1" width="28.0" height="5.2" fill="#f2b650"/>
<path d="M592.5 366.0 L597.0 370.5 L592.5 370.5 Z" fill="#e9bd78"/>
<path d="M592.5 365.8 L597.2 365.8 L597.2 370.5 Z" fill="#ffffff"/>
<text x="574.8" y="378.7" font-size="8.6" textLength="10.0" lengthAdjust="spacingAndGlyphs">5V</text>
</g>
<g>
<rect x="745.3" y="280.2" width="132.3" height="34.1" fill="#fde7c4"/>
<rect x="745.3" y="309.1" width="132.3" height="5.2" fill="#f2b650"/>
<path d="M873.1 280.2 L877.6 284.7 L873.1 284.7 Z" fill="#e9bd78"/>
<path d="M873.1 280.0 L877.8 280.0 L877.8 284.7 Z" fill="#ffffff"/>
<text x="750.0" y="293.0" font-size="8.6" textLength="113.0" lengthAdjust="spacingAndGlyphs">16X2 line LCD Screen using IC2</text>
<text x="750.0" y="302.0" font-size="8.6" textLength="58.0" lengthAdjust="spacingAndGlyphs">communications</text>
</g>
<g>
<rect x="635.0" y="550.5" width="108.5" height="24.0" fill="#fde7c4"/>
<rect x="635.0" y="569.3" width="108.5" height="5.2" fill="#f2b650"/>
<path d="M739.0 550.5 L743.5 555.0 L739.0 555.0 Z" fill="#e9bd78"/>
<path d="M739.0 550.3 L743.7 550.3 L743.7 555.0 Z" fill="#ffffff"/>
<text x="641.0" y="562.0" font-size="8.6" textLength="83.0" lengthAdjust="spacingAndGlyphs">DC Step Down 12V - 5V</text>
</g>
<g>
<rect x="879.2" y="505.3" width="52.2" height="34.0" fill="#fde7c4"/>
<rect x="879.2" y="534.1" width="52.2" height="5.2" fill="#f2b650"/>
<path d="M926.9 505.3 L931.4 509.8 L926.9 509.8 Z" fill="#e9bd78"/>
<path d="M926.9 505.1 L931.6 505.1 L931.6 509.8 Z" fill="#ffffff"/>
<text x="884.3" y="518.0" font-size="8.6" textLength="36.0" lengthAdjust="spacingAndGlyphs">RTC Clock</text>
<text x="884.3" y="527.4" font-size="8.6" textLength="28.0" lengthAdjust="spacingAndGlyphs">DS3231</text>
</g>
</g>
<text x="892.2" y="587.4" font-size="11.6" font-weight="bold" style="fill:#8e8e8e" textLength="38.8" lengthAdjust="spacingAndGlyphs">fritzing</text>
</svg></body></html>
